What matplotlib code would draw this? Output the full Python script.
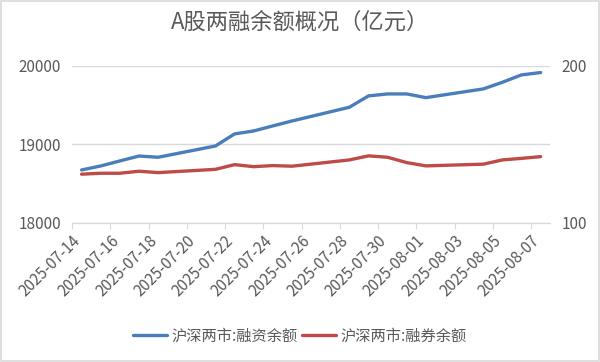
import matplotlib
matplotlib.use('Agg')
import matplotlib.pyplot as plt
import matplotlib.dates as mdates
import pandas as pd
from matplotlib.patches import Rectangle

plt.rcParams['font.family'] = ['Noto Sans CJK SC', 'DejaVu Sans']

dates = ['2025-07-14', '2025-07-15', '2025-07-16', '2025-07-17', '2025-07-18',
         '2025-07-21', '2025-07-22', '2025-07-23', '2025-07-24', '2025-07-25',
         '2025-07-28', '2025-07-29', '2025-07-30', '2025-07-31', '2025-08-01',
         '2025-08-04', '2025-08-05', '2025-08-06', '2025-08-07']
financing = [18672, 18723, 18787, 18850, 18834,
             18978, 19132, 19170, 19234, 19297,
             19472, 19617, 19642, 19642, 19595,
             19706, 19791, 19885, 19915]
lending = [130.9, 131.5, 131.5, 132.8, 131.9,
           134.0, 137.0, 135.7, 136.4, 136.0,
           140.0, 142.6, 141.7, 138.3, 136.2,
           137.3, 140.0, 141.0, 142.1]
labels = ['沪深两市:融资余额', '沪深两市:融券余额']
title = 'A股两融余额概况（亿元）'

blue = '#4A7EBB'
red = '#BE4B48'
grey = '#595959'

x = pd.to_datetime(dates) + pd.Timedelta(hours=12)

fig = plt.figure(figsize=(6, 3.62), dpi=100)
ax = fig.add_axes([0.12, 0.385, 0.797, 0.433])
ax2 = ax.twinx()

l1, = ax.plot(x, financing, color=blue, lw=2.4, solid_capstyle='round')
l2, = ax2.plot(x, lending, color=red, lw=2.4, solid_capstyle='round')

ax.set_xlim(pd.Timestamp('2025-07-14'), pd.Timestamp('2025-08-08'))
ax.set_ylim(18000, 20000)
ax.set_yticks([18000, 19000, 20000])
ax2.set_ylim(100, 200)
ax2.set_yticks([100, 200])

ticks = pd.date_range('2025-07-14', '2025-08-07', freq='2D')
ax.set_xticks(ticks)
ax.xaxis.set_major_formatter(mdates.DateFormatter('%Y-%m-%d'))
for lab in ax.get_xticklabels():
    lab.set_rotation(45)
    lab.set_ha('right')
    lab.set_rotation_mode('anchor')

ax.grid(axis='y', color='#D9D9D9', lw=1)
ax.set_axisbelow(True)
for a in (ax, ax2):
    for s in ('left', 'right', 'top'):
        a.spines[s].set_visible(False)
    a.spines['bottom'].set_color('#D9D9D9')
ax.tick_params(axis='y', length=0, labelsize=11, labelcolor=grey, pad=8)
ax2.tick_params(axis='y', length=0, labelsize=11, labelcolor=grey, pad=8)
ax.tick_params(axis='x', length=4, color='#D9D9D9', labelsize=11, labelcolor=grey, pad=3)

fig.text(0.5, 0.94, title, ha='center', va='center', fontsize=16, color=grey)
fig.legend([l1, l2], labels, loc='center', bbox_to_anchor=(0.5, 0.072), ncol=2,
           frameon=False, fontsize=11, labelcolor=grey, handlelength=2.2,
           handletextpad=0.3, columnspacing=0.3)

fig.patches.append(Rectangle((0.002, 0.003), 0.996, 0.994, transform=fig.transFigure,
                             fill=False, edgecolor='#D9D9D9', lw=1.2))

fig.savefig('out.png', dpi=100, facecolor='white')
